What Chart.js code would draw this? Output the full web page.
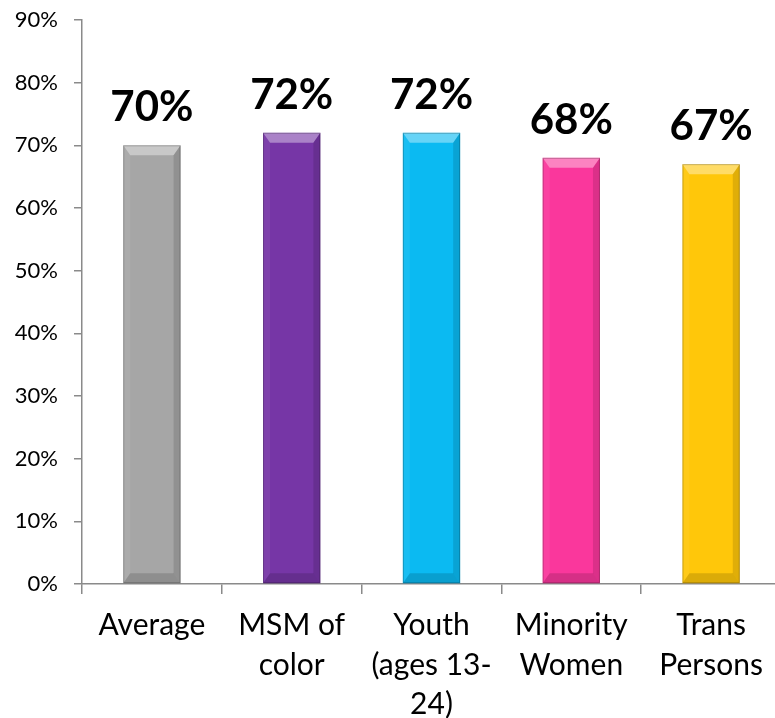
<!DOCTYPE html>
<html>
<head>
<meta charset="utf-8">
<script src="https://cdn.jsdelivr.net/npm/chart.js@4"></script>
<style>
  html, body { margin: 0; padding: 0; background: #fff; overflow: hidden; }
  .chart-wrap { position: relative; width: 781px; height: 718px; }
</style>
</head>
<body>
<div class="chart-wrap"><canvas id="chart-main"></canvas></div>
<script>
const categories = [
  'Average',
  ['MSM of', 'color'],
  ['Youth', '(ages 13-', '24)'],
  ['Minority', 'Women'],
  ['Trans', 'Persons']
]
const values = [70, 72, 72, 68, 67]
const barColors = ['#a6a6a6', '#7636a6', '#0bbaf2', '#fa379c', '#ffc70a']
const yTicks = [0, 10, 20, 30, 40, 50, 60, 70, 80, 90]

const AXIS_GRAY = '#8a8a8a'

// bevelled bar look, drawn on top of each bar from its own element geometry
const bevelPlugin = {
  id: 'bevel',
  afterDatasetsDraw(chart) {
    const ctx = chart.ctx
    chart.getDatasetMeta(0).data.forEach(bar => {
      const { x, y, base, width } = bar.getProps(['x', 'y', 'base', 'width'], true)
      const L = x - width / 2, R = x + width / 2, T = y, B = base
      const b = 10, s = 7
      const poly = (pts, fill) => {
        ctx.beginPath()
        ctx.moveTo(pts[0][0], pts[0][1])
        pts.slice(1).forEach(p => ctx.lineTo(p[0], p[1]))
        ctx.closePath()
        ctx.fillStyle = fill
        ctx.fill()
      }
      ctx.save()
      poly([[L, T], [R, T], [R - s, T + b], [L + s, T + b]], 'rgba(255,255,255,0.38)')
      poly([[L, T], [L + s, T + b], [L + s, B - b], [L, B]], 'rgba(255,255,255,0.06)')
      poly([[R, T], [R, B], [R - s, B - b], [R - s, T + b]], 'rgba(0,0,0,0.12)')
      poly([[L, B], [R, B], [R - s, B - b], [L + s, B - b]], 'rgba(0,0,0,0.14)')
      ctx.strokeStyle = 'rgba(0,0,0,0.22)'
      ctx.lineWidth = 1
      ctx.strokeRect(L + 0.5, T + 0.5, width - 1, B - T - 1)
      ctx.restore()
    })
  }
}

// big bold value labels above the bars
const valueLabels = {
  id: 'valueLabels',
  afterDatasetsDraw(chart) {
    const ctx = chart.ctx
    const data = chart.data.datasets[0].data
    ctx.save()
    ctx.font = 'bold 42px Lato, "Open Sans", sans-serif'
    ctx.fillStyle = '#000'
    ctx.textAlign = 'center'
    ctx.textBaseline = 'alphabetic'
    chart.getDatasetMeta(0).data.forEach((bar, i) => {
      ctx.fillText(data[i] + '%', bar.x, bar.y - 24)
    })
    ctx.restore()
  }
}

const ctx = document.getElementById('chart-main').getContext('2d')
new Chart(ctx, {
  type: 'bar',
  data: {
    labels: categories,
    datasets: [{
      data: values,
      backgroundColor: barColors,
      borderWidth: 0,
      categoryPercentage: 1,
      barPercentage: 0.41
    }]
  },
  options: {
    responsive: true,
    maintainAspectRatio: false,
    animation: false,
    layout: { padding: { top: 20, right: 0, left: 0, bottom: 0 } },
    plugins: { legend: { display: false }, tooltip: { enabled: false } },
    scales: {
      y: {
        min: 0,
        max: 90,
        afterFit: s => { s.width = 82; s.paddingTop = 0; s.paddingBottom = 0 },
        afterBuildTicks: s => { s.ticks = yTicks.map(v => ({ value: v })) },
        border: { color: AXIS_GRAY, width: 1.5 },
        grid: { drawOnChartArea: false, drawTicks: true, tickLength: 8, color: AXIS_GRAY, lineWidth: 1.5 },
        ticks: {
          padding: 16,
          color: '#000',
          font: { family: 'Lato, "Open Sans", sans-serif', size: 22 },
          callback: v => v + '%'
        }
      },
      x: {
        afterFit: s => { s.height = 134 },
        border: { color: AXIS_GRAY, width: 1.5 },
        grid: { offset: true, drawOnChartArea: false, drawTicks: true, tickLength: 10, color: AXIS_GRAY, lineWidth: 1.5 },
        ticks: {
          padding: 11,
          color: '#000',
          maxRotation: 0,
          autoSkip: false,
          font: { family: 'Lato, "Open Sans", sans-serif', size: 30, lineHeight: 1.33 }
        }
      }
    }
  },
  plugins: [bevelPlugin, valueLabels]
})
</script>
</body>
</html>
